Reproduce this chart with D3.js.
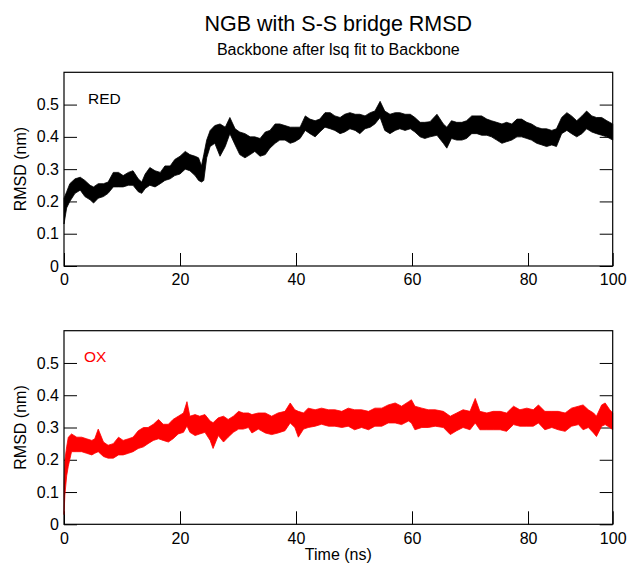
<!DOCTYPE html>
<html>
<head>
<meta charset="utf-8">
<script src="https://cdn.jsdelivr.net/npm/d3@7"></script>
<style>
  body { margin: 0; background: #fff; }
  svg { display: block; font-family: "Liberation Sans", Arial, sans-serif; }
</style>
</head>
<body>
<svg id="chart"></svg>
<script>
// RMSD band (low/high edge of the noisy trace)
const redTime = [0, 0.46, 1.0, 1.9, 2.8, 3.6, 4.5, 5.1, 5.9, 6.8, 7.6, 8.5, 9.4, 10.2, 11.1, 11.9, 12.8, 13.4, 14.0, 14.8, 15.7, 16.6, 17.4, 18.3, 19.1, 20.0, 20.9, 21.7, 22.6, 23.2, 23.7, 24.1, 24.6, 25.2, 26.0, 26.9, 27.8, 28.6, 29.5, 30.3, 31.2, 32.1, 32.9, 33.8, 34.7, 35.5, 36.4, 37.2, 38.1, 39.0, 39.8, 40.7, 41.6, 42.4, 43.3, 44.1, 45.0, 45.9, 46.7, 47.6, 48.4, 49.3, 50.2, 51.0, 51.9, 52.8, 53.6, 54.5, 55.3, 56.2, 57.1, 57.9, 58.8, 59.7, 60.5, 61.4, 62.2, 63.1, 64.3, 65.4, 66.0, 66.8, 67.7, 68.6, 69.4, 70.3, 71.2, 72.0, 72.9, 73.7, 74.6, 75.5, 76.3, 77.2, 78.1, 78.9, 79.8, 80.6, 81.5, 82.4, 83.2, 84.1, 84.9, 85.8, 86.7, 87.5, 88.4, 89.3, 90.1, 91.0, 91.8, 92.7, 93.6, 94.6];
const redLow = [0.13, 0.18, 0.20, 0.225, 0.235, 0.215, 0.205, 0.195, 0.21, 0.215, 0.225, 0.245, 0.245, 0.245, 0.25, 0.25, 0.23, 0.225, 0.24, 0.25, 0.245, 0.255, 0.265, 0.27, 0.28, 0.285, 0.30, 0.295, 0.28, 0.265, 0.26, 0.265, 0.335, 0.37, 0.38, 0.34, 0.37, 0.41, 0.375, 0.345, 0.335, 0.345, 0.355, 0.34, 0.345, 0.365, 0.38, 0.39, 0.39, 0.38, 0.385, 0.395, 0.42, 0.41, 0.40, 0.415, 0.43, 0.425, 0.42, 0.41, 0.415, 0.425, 0.42, 0.41, 0.425, 0.43, 0.44, 0.46, 0.42, 0.41, 0.42, 0.425, 0.42, 0.425, 0.415, 0.40, 0.395, 0.40, 0.405, 0.38, 0.365, 0.395, 0.39, 0.39, 0.395, 0.41, 0.41, 0.405, 0.405, 0.40, 0.39, 0.38, 0.385, 0.39, 0.40, 0.40, 0.395, 0.39, 0.38, 0.375, 0.37, 0.375, 0.37, 0.41, 0.42, 0.41, 0.40, 0.41, 0.425, 0.415, 0.41, 0.405, 0.40, 0.39];
const redHigh = [0.21, 0.23, 0.255, 0.27, 0.275, 0.265, 0.25, 0.245, 0.255, 0.255, 0.26, 0.29, 0.29, 0.28, 0.29, 0.295, 0.27, 0.26, 0.285, 0.305, 0.295, 0.29, 0.31, 0.31, 0.33, 0.34, 0.355, 0.345, 0.34, 0.335, 0.31, 0.345, 0.39, 0.42, 0.435, 0.44, 0.43, 0.46, 0.425, 0.415, 0.41, 0.40, 0.40, 0.395, 0.415, 0.42, 0.44, 0.44, 0.435, 0.43, 0.43, 0.43, 0.465, 0.455, 0.45, 0.455, 0.475, 0.475, 0.465, 0.46, 0.47, 0.475, 0.47, 0.47, 0.465, 0.475, 0.48, 0.51, 0.48, 0.47, 0.475, 0.475, 0.47, 0.47, 0.46, 0.445, 0.445, 0.447, 0.47, 0.44, 0.43, 0.45, 0.445, 0.445, 0.45, 0.465, 0.465, 0.465, 0.455, 0.45, 0.445, 0.44, 0.445, 0.44, 0.455, 0.455, 0.445, 0.44, 0.43, 0.425, 0.425, 0.42, 0.425, 0.46, 0.475, 0.465, 0.45, 0.465, 0.48, 0.465, 0.46, 0.46, 0.45, 0.44];

const oxTime = [0, 0.15, 0.46, 0.74, 1.3, 2.2, 3.05, 3.9, 4.8, 5.3, 5.9, 6.8, 7.6, 8.5, 9.4, 10.2, 11.1, 11.9, 12.8, 13.7, 14.5, 15.4, 16.3, 17.1, 18.0, 18.8, 19.7, 20.6, 21.2, 21.7, 22.6, 23.4, 24.3, 25.2, 25.7, 26.6, 27.5, 28.3, 29.2, 30.1, 30.9, 31.8, 32.4, 33.5, 34.7, 35.8, 36.9, 38.1, 39.0, 39.8, 40.4, 41.3, 42.1, 43.3, 44.4, 45.6, 46.7, 47.9, 49.0, 50.1, 51.3, 52.5, 53.6, 54.8, 55.9, 57.1, 58.2, 59.4, 59.9, 60.5, 61.7, 62.8, 64.0, 65.4, 66.6, 67.7, 68.8, 70.0, 70.9, 71.7, 72.9, 74.0, 75.2, 76.3, 77.5, 78.6, 79.8, 80.9, 81.8, 82.9, 84.1, 85.2, 86.4, 87.5, 88.7, 89.5, 90.4, 91.3, 91.8, 92.7, 93.3, 94.1, 94.6];
const oxLow = [0.03, 0.09, 0.15, 0.18, 0.225, 0.225, 0.225, 0.22, 0.215, 0.22, 0.225, 0.21, 0.205, 0.205, 0.215, 0.215, 0.22, 0.225, 0.235, 0.24, 0.25, 0.26, 0.265, 0.26, 0.255, 0.265, 0.28, 0.285, 0.305, 0.285, 0.275, 0.28, 0.285, 0.26, 0.235, 0.275, 0.255, 0.27, 0.285, 0.295, 0.295, 0.30, 0.283, 0.295, 0.283, 0.278, 0.283, 0.29, 0.314, 0.30, 0.27, 0.295, 0.30, 0.304, 0.31, 0.304, 0.304, 0.30, 0.304, 0.293, 0.30, 0.293, 0.304, 0.304, 0.314, 0.314, 0.309, 0.32, 0.314, 0.293, 0.30, 0.30, 0.304, 0.30, 0.278, 0.29, 0.30, 0.293, 0.314, 0.293, 0.293, 0.293, 0.293, 0.288, 0.309, 0.304, 0.304, 0.304, 0.314, 0.293, 0.30, 0.293, 0.288, 0.304, 0.309, 0.293, 0.30, 0.283, 0.272, 0.304, 0.309, 0.30, 0.293];
const oxHigh = [0.12, 0.20, 0.24, 0.27, 0.28, 0.27, 0.27, 0.265, 0.26, 0.265, 0.295, 0.255, 0.245, 0.25, 0.27, 0.26, 0.265, 0.27, 0.29, 0.30, 0.30, 0.31, 0.325, 0.31, 0.31, 0.325, 0.335, 0.345, 0.38, 0.335, 0.34, 0.335, 0.34, 0.32, 0.315, 0.33, 0.335, 0.325, 0.335, 0.35, 0.345, 0.345, 0.34, 0.345, 0.345, 0.335, 0.345, 0.35, 0.376, 0.355, 0.35, 0.345, 0.36, 0.355, 0.36, 0.355, 0.355, 0.35, 0.36, 0.355, 0.355, 0.35, 0.36, 0.36, 0.37, 0.376, 0.366, 0.38, 0.386, 0.366, 0.36, 0.355, 0.355, 0.35, 0.335, 0.345, 0.355, 0.35, 0.39, 0.35, 0.345, 0.35, 0.35, 0.345, 0.366, 0.355, 0.36, 0.355, 0.37, 0.35, 0.35, 0.35, 0.345, 0.36, 0.366, 0.37, 0.355, 0.345, 0.335, 0.37, 0.376, 0.355, 0.345];

const xTicks = [0, 20, 40, 60, 80, 94.6];
const xTickLabels = ["0", "20", "40", "60", "80", "100"];
const yTicks = [0, 0.1, 0.2, 0.3, 0.4, 0.5];

const width = 629;
const height = 566;
const marginLeft = 64;
const marginRight = 16.3;
const xMax = 94.6;

const svg = d3.select("#chart")
    .attr("width", width)
    .attr("height", height);

svg.append("rect").attr("width", width).attr("height", height).attr("fill", "#fff");

const x = d3.scaleLinear()
    .domain([0, xMax])
    .range([marginLeft, width - marginRight]);

svg.append("text")
    .attr("x", (marginLeft + width - marginRight) / 2)
    .attr("y", 31)
    .attr("text-anchor", "middle")
    .attr("font-size", 21.5)
    .text("NGB with S-S bridge RMSD");

svg.append("text")
    .attr("x", (marginLeft + width - marginRight) / 2)
    .attr("y", 55)
    .attr("text-anchor", "middle")
    .attr("font-size", 16)
    .text("Backbone after lsq fit to Backbone");

function panel(top, bottom, time, low, high, color, name) {
    const y = d3.scaleLinear()
        .domain([0, 0.6])
        .range([bottom, top]);

    const rows = time.map((t, i) => ({ t, lo: low[i], hi: high[i] }));

    const g = svg.append("g");

    // y axis, ticks pointing inward
    g.append("g")
        .attr("transform", `translate(${marginLeft},0)`)
        .call(d3.axisLeft(y).tickValues(yTicks).tickSize(-13).tickPadding(5)
            .tickFormat(d3.format("")))
        .call(a => a.select(".domain").remove())
        .call(a => a.selectAll("text").attr("font-size", 16).attr("fill", "#000")
            .attr("font-family", null))
        .call(a => a.selectAll(".tick line").attr("stroke", "#000"));

    g.append("g")
        .attr("transform", `translate(${width - marginRight},0)`)
        .call(d3.axisRight(y).tickValues(yTicks).tickSize(-13).tickFormat(""))
        .call(a => a.select(".domain").remove())
        .call(a => a.selectAll(".tick line").attr("stroke", "#000"));

    g.append("g")
        .attr("transform", `translate(0,${bottom})`)
        .call(d3.axisBottom(x).tickValues(xTicks).tickSize(-13).tickPadding(8)
            .tickFormat((d, i) => xTickLabels[i]))
        .call(a => a.select(".domain").remove())
        .call(a => a.selectAll("text").attr("font-size", 16).attr("fill", "#000")
            .attr("font-family", null))
        .call(a => a.selectAll(".tick line").attr("stroke", "#000"));

    const area = d3.area()
        .x(d => x(d.t))
        .y0(d => y(d.lo))
        .y1(d => y(d.hi));

    g.append("path")
        .datum(rows)
        .attr("fill", color)
        .attr("stroke", color)
        .attr("stroke-width", 0.8)
        .attr("stroke-linejoin", "round")
        .attr("d", area);

    // frame
    g.append("rect")
        .attr("x", marginLeft)
        .attr("y", top)
        .attr("width", width - marginRight - marginLeft)
        .attr("height", bottom - top)
        .attr("fill", "none")
        .attr("stroke", "#000")
        .attr("stroke-width", 1.2);

    g.append("text")
        .attr("transform", `translate(25.5,${(top + bottom) / 2}) rotate(-90)`)
        .attr("text-anchor", "middle")
        .attr("font-size", 16)
        .text("RMSD (nm)");

    g.append("text")
        .attr("x", name === "RED" ? 88 : 84)
        .attr("y", top + 31.5)
        .attr("font-size", 15.5)
        .attr("fill", color)
        .text(name);
}

panel(72.3, 266, redTime, redLow, redHigh, "#000", "RED");
panel(330.7, 524.3, oxTime, oxLow, oxHigh, "#ff0000", "OX");

svg.append("text")
    .attr("x", (marginLeft + width - marginRight) / 2)
    .attr("y", 560)
    .attr("text-anchor", "middle")
    .attr("font-size", 16)
    .text("Time (ns)");
</script>
</body>
</html>
